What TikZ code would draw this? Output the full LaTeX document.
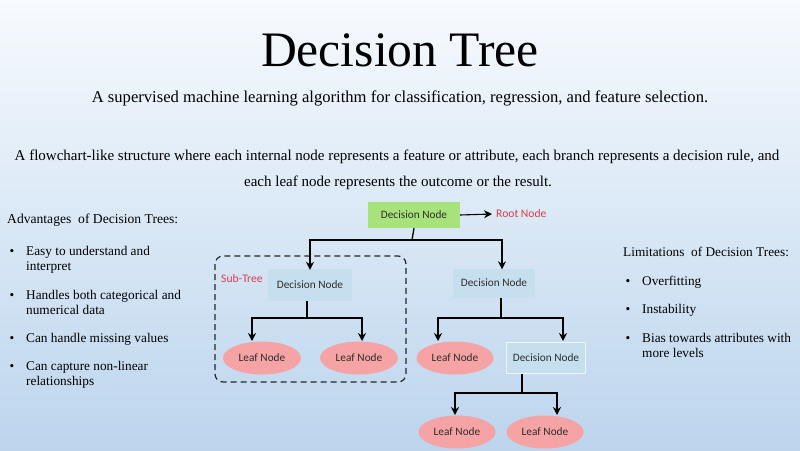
\documentclass[tikz,border=0pt]{standalone}
\usepackage{fontspec}
\setmainfont{Liberation Serif}
\newfontfamily\nodefont{Carlito}
\usetikzlibrary{arrows.meta,shapes.geometric}

\definecolor{bgtop}{HTML}{F7FAFE}
\definecolor{bgbottom}{HTML}{BCD5ED}
\definecolor{rootgreen}{HTML}{A8E27A}
\definecolor{leafpink}{HTML}{F5A3A4}
\definecolor{decfill}{HTML}{C6DFEE}
\definecolor{labelred}{HTML}{D8404C}
\definecolor{nodetext}{HTML}{2E2E2E}

\tikzset{
  txt/.style={inner sep=0pt, anchor=base west, text=black},
  ctxt/.style={inner sep=0pt, anchor=base, text=black},
  nodefontsize/.style={font=\nodefont\fontsize{11.3}{13}\selectfont},
  rootbox/.style={rectangle, fill=rootgreen, minimum width=92pt, minimum height=26pt,
    inner sep=0pt, nodefontsize, text=nodetext},
  decbox/.style={rectangle, fill=decfill, minimum width=84pt, minimum height=32pt,
    inner sep=0pt, nodefontsize, text=nodetext},
  leaf/.style={ellipse, fill=leafpink, minimum width=78pt, minimum height=33pt,
    inner sep=0pt, nodefontsize, text=nodetext},
  redlabel/.style={inner sep=0pt, font=\nodefont\fontsize{11.6}{13}\selectfont, text=labelred},
  branch/.style={line width=1.3pt, black},
  tip/.style={branch, -{Stealth[length=8pt, width=8pt]}},
  bullet/.style={inner sep=0pt, anchor=base, text=black},
  listfont/.style={font=\fontsize{13.3}{15}\selectfont}
}

\begin{document}
\begin{tikzpicture}[x=1pt, y=-1pt]
  % background
  \shade[top color=bgtop, bottom color=bgbottom] (0,0) rectangle (800,450);
  \useasboundingbox (0,0) rectangle (800,450);

  % headings
  \node[ctxt, font=\fontsize{49.6}{54}\selectfont] (title) at (400,66) {Decision Tree};
  \node[ctxt, font=\fontsize{16.6}{19}\selectfont] (subtitle) at (400,102)
    {A supervised machine learning algorithm for classification, regression, and feature selection.};
  \node[ctxt, font=\fontsize{15}{18}\selectfont] (desc1) at (397,160)
    {A flowchart-like structure where each internal node represents a feature or attribute, each branch represents a decision rule, and};
  \node[ctxt, font=\fontsize{15}{18}\selectfont] (desc2) at (398,186)
    {each leaf node represents the outcome or the result.};

  % advantages list
  \begin{scope}[listfont]
    \node[txt, font=\fontsize{13.6}{15}\selectfont] (advhead) at (7,223) {Advantages\ \ of Decision Trees:};
    \node[bullet] (ab1) at (12,255) {\textbullet};
    \node[txt] (a1) at (26,255) {Easy to understand and};
    \node[txt] (a1b) at (26,270) {interpret};
    \node[bullet] (ab2) at (12,299) {\textbullet};
    \node[txt] (a2) at (26,299) {Handles both categorical and};
    \node[txt] (a2b) at (26,314) {numerical data};
    \node[bullet] (ab3) at (12,342) {\textbullet};
    \node[txt] (a3) at (26,342) {Can handle missing values};
    \node[bullet] (ab4) at (12,370) {\textbullet};
    \node[txt] (a4) at (26,370) {Can capture non-linear};
    \node[txt] (a4b) at (26,385) {relationships};

    % limitations list
    \node[txt] (limhead) at (623,256) {Limitations\ \ of Decision Trees:};
    \node[bullet] (lb1) at (628,285) {\textbullet};
    \node[txt] (l1) at (642,285) {Overfitting};
    \node[bullet] (lb2) at (628,313) {\textbullet};
    \node[txt] (l2) at (642,313) {Instability};
    \node[bullet] (lb3) at (628,342) {\textbullet};
    \node[txt] (l3) at (642,342) {Bias towards attributes with};
    \node[txt] (l3b) at (642,357) {more levels};
  \end{scope}

  % sub-tree frame
  \draw[line width=1.2pt, dash pattern=on 6pt off 4pt, rounded corners=8pt, black!85]
    (215,256) rectangle (406,382);
  \node[redlabel, anchor=west] (subtree) at (221,279) {Sub-Tree};

  % tree nodes
  \node[rootbox] (root) at (414,215) {Decision Node};
  \node[redlabel, anchor=west] (rootlabel) at (496,214) {Root Node};
  \node[decbox] (dl) at (310,285) {Decision Node};
  \node[decbox, minimum width=82pt, minimum height=29pt] (dr) at (494,283) {Decision Node};
  \node[leaf] (l1a) at (262,358) {Leaf Node};
  \node[leaf] (l1b) at (359,358) {Leaf Node};
  \node[leaf, minimum width=77pt] (l2a) at (455,358) {Leaf Node};
  \node[decbox, draw=white!70!decfill, line width=0.6pt, minimum width=79pt, minimum height=31pt] (dr2) at (546,358) {Decision Node};
  \node[leaf, minimum width=77pt] (l3a) at (457,432) {Leaf Node};
  \node[leaf, minimum width=77pt] (l3b) at (545,432) {Leaf Node};

  % connectors
  \coordinate (rootarrow) at (492,214);
  \draw[tip, line width=1.1pt] (root.east) -- (rootarrow);

  \draw[branch] (root.south) -- (412,240) coordinate (j0);
  \draw[tip] (j0) -| ([yshift=-1pt]dl.north);
  \draw[tip] (j0) -| ([xshift=8pt,yshift=-1pt]dr.north);

  \draw[branch] ([xshift=-3pt]dl.south) -- (307,318) coordinate (j1);
  \draw[tip] (j1) -| (252,341);
  \draw[tip] (j1) -| (362,341);

  \draw[branch] ([xshift=7pt]dr.south) -- (501,318) coordinate (j2);
  \draw[tip] (j2) -| (438,341);
  \draw[tip] (j2) -| (563,341);

  \draw[branch] ([xshift=-24pt]dr2.south) -- (522,393) coordinate (j3);
  \draw[tip] (j3) -| (455,415);
  \draw[tip] (j3) -| (557,415);
\end{tikzpicture}
\end{document}
